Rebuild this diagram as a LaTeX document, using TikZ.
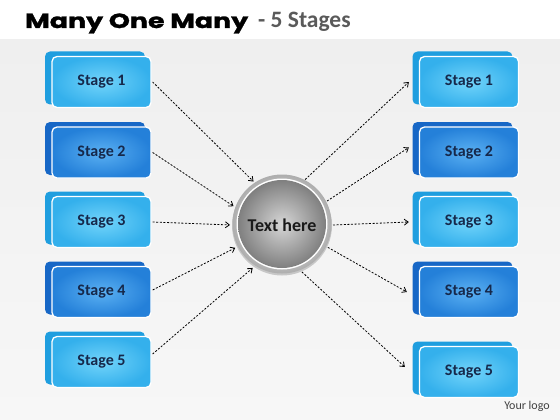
\documentclass[tikz,border=0pt]{standalone}
\usepackage{fontspec}
\setmainfont{Carlito}
\newfontfamily\poppins{Poppins}[FakeBold=1.2]
\usetikzlibrary{arrows.meta,calc}
\definecolor{bgtop}{HTML}{EFEFEF}
\definecolor{bgbot}{HTML}{F7F7F7}
\definecolor{lightin}{HTML}{72D4FA}
\definecolor{lightout}{HTML}{34B0EC}
\definecolor{lightback}{HTML}{1F9EDF}
\definecolor{darkin}{HTML}{5AB0F2}
\definecolor{darkout}{HTML}{2480D9}
\definecolor{darkback}{HTML}{1767C6}
\definecolor{navy}{HTML}{16284A}
\definecolor{subgray}{HTML}{5A5A5A}
\tikzset{
  frontbox/.style={rectangle, rounded corners=5pt, minimum width=99pt, minimum height=51pt,
    inner sep=0pt, draw=white, line width=1.3pt, text=navy, font=\bfseries\fontsize{16}{18}\selectfont},
  lightfront/.style={frontbox, inner color=lightin, outer color=lightout},
  darkfront/.style={frontbox, inner color=darkin, outer color=darkout},
  arr/.style={draw=black, line width=0.8pt, dash pattern=on 2pt off 1.6pt,
    -{Straight Barb[length=4pt,width=6pt]}},
}
% #1 name, #2 x, #3 y, #4 light/dark, #5 text
\newcommand{\stg}[5]{%
  \fill[#4back, rounded corners=5pt] ({#2-56.5},{#3-30.5}) rectangle ({#2+43.5},{#3+22.5});
  \node[#4front] (#1) at (#2,#3) {\raisebox{-1.5pt}{#5}};
}
\begin{document}
\begin{tikzpicture}[x=1pt,y=-1pt]
\useasboundingbox (0,0) rectangle (560,420);
\fill[white] (0,0) rectangle (560,40);
\shade[top color=bgtop, bottom color=bgbot] (0,40) rectangle (560,420);
% title
\node[anchor=base west, inner sep=0pt, font=\poppins\bfseries\fontsize{22}{24}\selectfont] (title) at (25,28) {\resizebox*{223pt}{20pt}{Many One Many}};
\node[anchor=base west, inner sep=0pt, text=subgray, font=\bfseries\fontsize{23.5}{26}\selectfont] (sub) at (258,28) {- 5 Stages};
% left boxes
\stg{L1}{101.5}{82}{light}{Stage 1}
\stg{L2}{101.5}{152.5}{dark}{Stage 2}
\stg{L3}{101.5}{222}{light}{Stage 3}
\stg{L4}{101.5}{292}{dark}{Stage 4}
\stg{L5}{101.5}{362}{light}{Stage 5}
% right boxes
\stg{R1}{469}{82}{light}{Stage 1}
\stg{R2}{469}{152.5}{dark}{Stage 2}
\stg{R3}{469}{222}{light}{Stage 3}
\stg{R4}{469}{292}{dark}{Stage 4}
\stg{R5}{469}{372}{light}{Stage 5}
% hub
\fill[black!22] (282,225.5) circle (50);
\shade[inner color=white, outer color=black!32] (282,224) circle (49.5);
\fill[white] (282,224) circle (45.5);
\shade[inner color=black!16, outer color=black!50] (282,224) circle (44);
\node[circle, minimum size=102pt, inner sep=0pt, outer sep=0pt, text=black!90,
  font=\bfseries\fontsize{18}{20}\selectfont] (hub) at (282,225) {Text here};
% arrows in
\draw[arr, shorten >=1pt] ([xshift=1pt]L1.east) -- (hub.123);
\draw[arr, shorten >=1pt] ([xshift=1pt]L2.east) -- (hub.159);
\draw[arr, shorten >=1pt] ([xshift=1pt]L3.east) -- (hub.180);
\draw[arr, shorten >=1pt] ([xshift=1pt,yshift=2pt]L4.east) -- (hub.206);
\draw[arr, shorten >=1pt] ([xshift=1pt,yshift=8pt]L5.east) -- (hub.236);
% arrows out
\draw[arr] (hub.63) -- ([xshift=-10pt]R1.west);
\draw[arr] (hub.28) -- ([xshift=-10pt,yshift=5pt]R2.west);
\draw[arr] (hub.0) -- ([xshift=-10pt]R3.west);
\draw[arr] (hub.-26) -- ([xshift=-12pt]R4.west);
\draw[arr] (hub.-67) -- ([xshift=-14pt,yshift=5pt]R5.west);
% logo
\node[text=black!75, font=\fontsize{12}{14}\selectfont] (logo) at (527,406) {Your logo};
\end{tikzpicture}
\end{document}
